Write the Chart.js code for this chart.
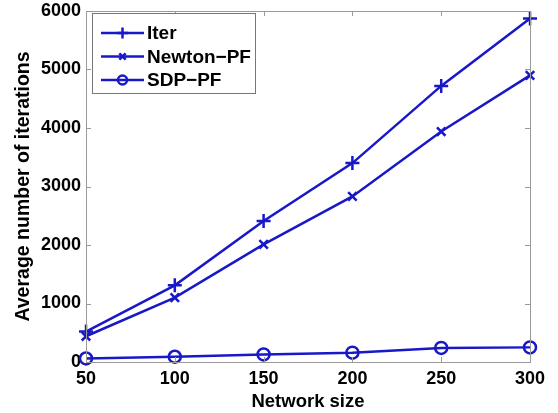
<!DOCTYPE html>
<html><head><meta charset="utf-8">
<script src="https://cdn.jsdelivr.net/npm/chart.js@4"></script>
<style>html,body{margin:0;padding:0;background:#fff}#wrap{width:558px;height:413px}</style>
</head><body><div id="wrap"><canvas id="c" width="558" height="413"></canvas></div>
<script>
const networkSizes = [50, 100, 150, 200, 250, 300];
const iterValues = [520, 1310, 2410, 3400, 4720, 5870];
const newtonValues = [440, 1100, 2010, 2830, 3940, 4900];
const sdpValues = [60, 90, 130, 160, 240, 250];
const yTicks = [0, 1000, 2000, 3000, 4000, 5000, 6000];
const seriesNames = ['Iter', 'Newton\u2212PF', 'SDP\u2212PF'];

const BLUE = '#1818c8';
const AXIS = '#9a9a9a';
const FONT = 'Liberation Sans, Arial, sans-serif';

const boxPlugin = {
  id: 'boxPlugin',
  afterDatasetsDraw(chart) {
    const {ctx, chartArea: a, scales: {x, y}} = chart;
    ctx.save();
    ctx.strokeStyle = AXIS; ctx.lineWidth = 1;
    ctx.strokeRect(a.left + 0.5, a.top + 0.5, a.right - a.left, a.bottom - a.top);
    const t = 5;
    ctx.beginPath();
    networkSizes.forEach(v => {
      const px = Math.round(x.getPixelForValue(v)) + 0.5;
      ctx.moveTo(px, a.bottom); ctx.lineTo(px, a.bottom - t);
      ctx.moveTo(px, a.top); ctx.lineTo(px, a.top + t);
    });
    yTicks.forEach(v => {
      const py = Math.round(y.getPixelForValue(v)) + 0.5;
      ctx.moveTo(a.left, py); ctx.lineTo(a.left + t, py);
      ctx.moveTo(a.right, py); ctx.lineTo(a.right - t, py);
    });
    ctx.stroke();
    // legend
    const lx = 92, ly = 13, lw = 163, lh = 80;
    ctx.fillStyle = '#fff';
    ctx.fillRect(lx, ly, lw, lh);
    ctx.strokeStyle = '#777';
    ctx.strokeRect(lx + 0.5, ly + 0.5, lw, lh);
    ctx.textBaseline = 'middle';
    chart.data.datasets.forEach((ds, i) => {
      const cy = ly + 20 + i * 23.5;
      ctx.strokeStyle = BLUE; ctx.lineWidth = 2.5;
      ctx.beginPath(); ctx.moveTo(lx + 9, cy); ctx.lineTo(lx + 52, cy); ctx.stroke();
      ctx.fillStyle = 'rgba(0,0,0,0)';
      Chart.helpers.drawPoint(ctx, {pointStyle: ds.pointStyle, radius: ds.pointRadius - 1.5, borderWidth: 2.5, rotation: 0}, lx + 30.5, cy);
      ctx.fillStyle = '#000';
      ctx.font = 'bold 19px ' + FONT;
      ctx.fillText(ds.label, lx + 55, cy + 1);
    });
    ctx.restore();
  }
};

new Chart(document.getElementById('c'), {
  type: 'line',
  data: {
    datasets: [
      {label: seriesNames[0], data: networkSizes.map((v, i) => ({x: v, y: iterValues[i]})), pointStyle: 'cross', pointRadius: 7},
      {label: seriesNames[1], data: networkSizes.map((v, i) => ({x: v, y: newtonValues[i]})), pointStyle: 'crossRot', pointRadius: 6},
      {label: seriesNames[2], data: networkSizes.map((v, i) => ({x: v, y: sdpValues[i]})), pointStyle: 'circle', pointRadius: 6}
    ].map(d => Object.assign(d, {borderColor: BLUE, backgroundColor: 'rgba(0,0,0,0)', pointBorderColor: BLUE, pointBackgroundColor: 'rgba(0,0,0,0)', borderWidth: 2.5, pointBorderWidth: 2.5, tension: 0, clip: false}))
  },
  options: {
    responsive: false, animation: false,
    layout: {padding: {left: 0, right: 28, top: 11, bottom: 0}},
    plugins: {legend: {display: false}, tooltip: {enabled: false}},
    scales: {
      x: {
        type: 'linear', min: 50, max: 300,
        afterBuildTicks: s => { s.ticks = networkSizes.map(v => ({value: v})); },
        grid: {display: false, drawTicks: false}, border: {display: false},
        ticks: {color: '#000', font: {family: FONT, size: 18, weight: 'bold'}, padding: 6, maxRotation: 0, autoSkip: false, callback: v => String(v)},
        title: {display: true, text: 'Network size', color: '#000', font: {family: FONT, size: 18.5, weight: 'bold'}, padding: {top: 1, bottom: 0}},
        afterFit: s => { s.height = 51; s.paddingLeft = 0; s.paddingRight = 0; }
      },
      y: {
        min: 0, max: 6000,
        afterBuildTicks: s => { s.ticks = yTicks.map(v => ({value: v})); },
        grid: {display: false, drawTicks: false}, border: {display: false},
        ticks: {color: '#000', font: {family: FONT, size: 18, weight: 'bold'}, padding: 5, autoSkip: false, callback: v => String(v)},
        title: {display: true, text: 'Average number of iterations', color: '#000', font: {family: FONT, size: 19.5, weight: 'bold'}, padding: {top: 12, bottom: 0}},
        afterFit: s => { s.width = 86; s.paddingTop = 0; s.paddingBottom = 0; }
      }
    }
  },
  plugins: [boxPlugin]
});
</script></body></html>
